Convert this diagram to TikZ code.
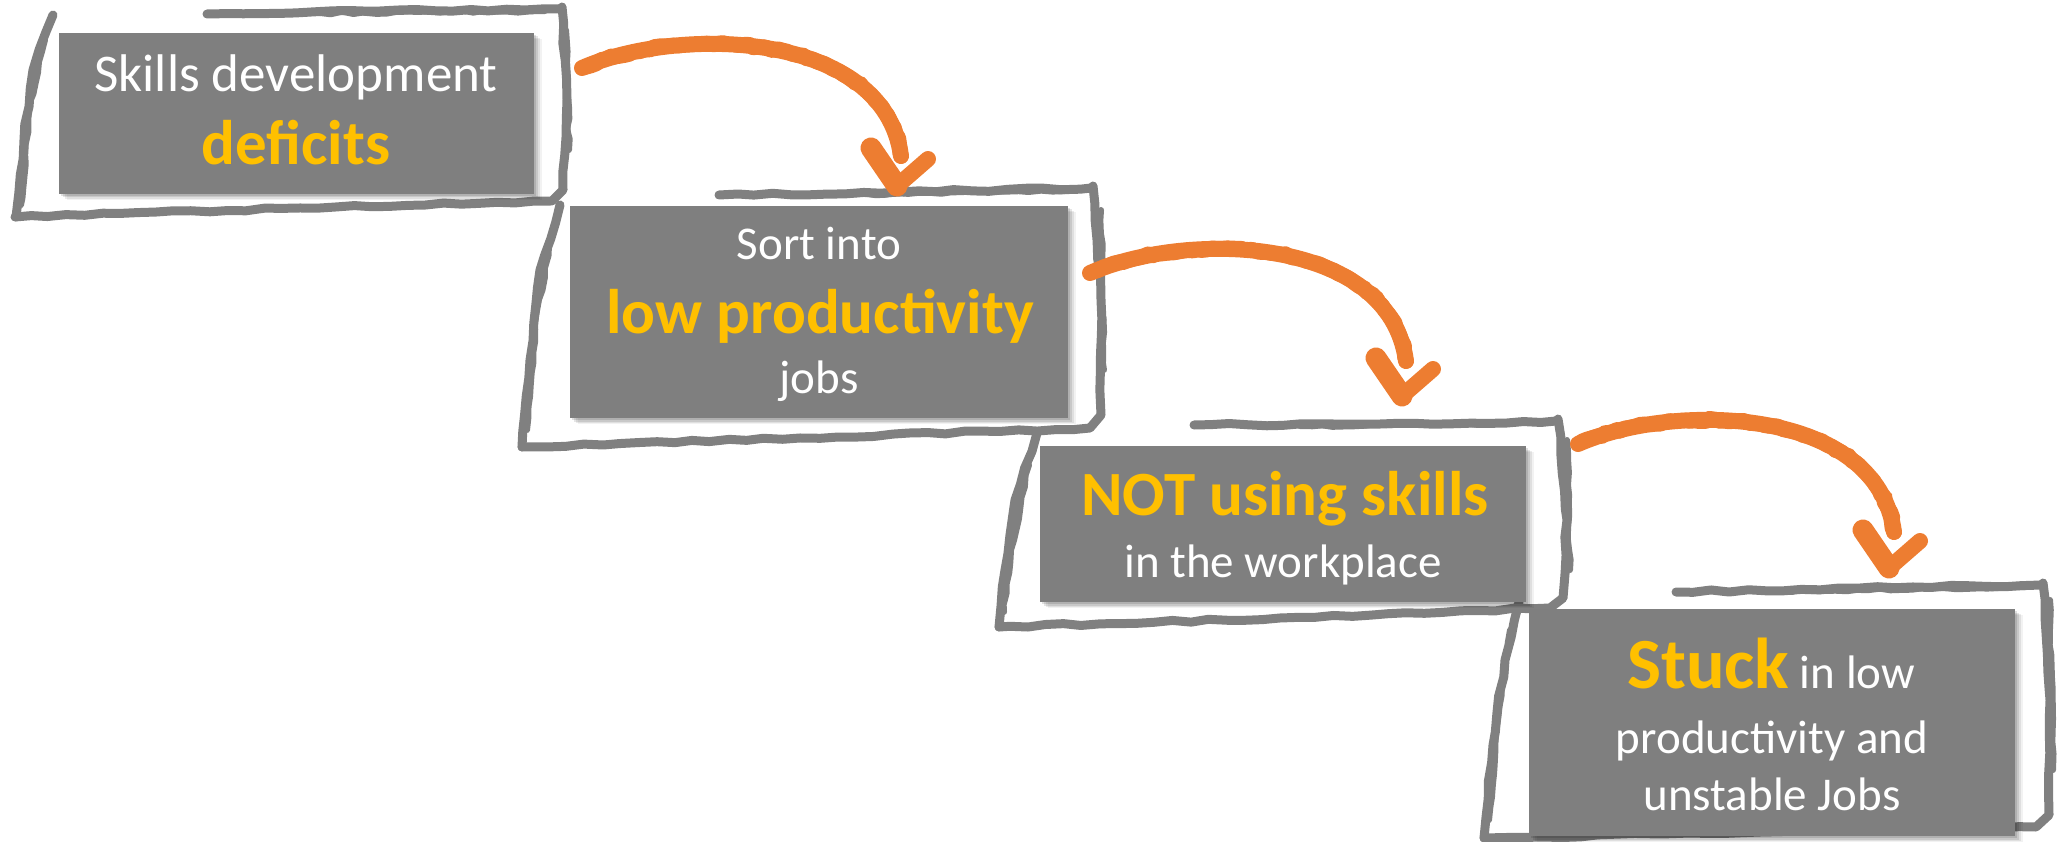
\documentclass[tikz,border=0pt]{standalone}
\usepackage{fontspec}
\setmainfont{Carlito}
\usetikzlibrary{calc,shadows,decorations.pathmorphing}

\definecolor{boxgrey}{HTML}{7F7F7F}
\definecolor{framegrey}{HTML}{808080}
\definecolor{accent}{HTML}{FFC000}
\definecolor{brushorange}{HTML}{ED7D31}

\tikzset{
  card/.style={rectangle, fill=boxgrey, draw=none, inner sep=0pt,
    drop shadow={shadow xshift=2pt, shadow yshift=-2pt, opacity=0.12, fill=black},
    drop shadow={shadow xshift=4pt, shadow yshift=-3.5pt, opacity=0.10, fill=black},
    drop shadow={shadow xshift=6pt, shadow yshift=-5pt, opacity=0.08, fill=black},
    drop shadow={shadow xshift=8pt, shadow yshift=-6pt, opacity=0.05, fill=black}},
  textline/.style={inner sep=0pt, anchor=base, text=white},
  plain/.style={textline, font=\fontsize{47}{56}\selectfont},
  plainbig/.style={textline, font=\fontsize{53}{62}\selectfont},
  strong/.style={textline, font=\fontsize{63}{75}\selectfont\bfseries, text=accent},
  sketch/.style={draw=framegrey, line width=9pt, line cap=round, line join=round,
    decorate, decoration={random steps, segment length=18pt, amplitude=1.3pt}},
  sketchlight/.style={draw=framegrey, line width=6pt, line cap=round, line join=round,
    decorate, decoration={random steps, segment length=11pt, amplitude=1.4pt}},
  shaft/.style={draw=brushorange, line width=16pt, line cap=round, line join=round},
  shaftrough/.style={draw=brushorange, line width=15pt, line cap=round, line join=round,
    decorate, decoration={random steps, segment length=5pt, amplitude=1.5pt}},
  headwide/.style={draw=brushorange, line width=21pt, line cap=round},
  headnarrow/.style={draw=brushorange, line width=16pt, line cap=round},
}

\begin{document}
\begin{tikzpicture}[x=1pt, y=-1pt]
\pgfmathsetseed{11}
\useasboundingbox (0,0) rectangle (2068,842);

% ---- hand-drawn frames behind the cards ----
% frame 1
\draw[sketch] (207,14) -- (380,11) -- (560,9);
\draw[sketch] (562,7) -- (567,100) -- (563,190) -- (552,201) -- (300,208) -- (15,217);
\draw[sketch] (53,15) -- (33,70) -- (24,140) -- (16,217);
\draw[sketchlight] (320,13) -- (545,11);
\draw[sketchlight] (566,30) -- (569,150);
\draw[sketchlight] (45,40) -- (29,110) -- (21,205);
% frame 2
\draw[sketch] (719,195) -- (900,192) -- (1091,188);
\draw[sketch] (1093,186) -- (1101,300) -- (1101,415) -- (1090,428) -- (800,438) -- (522,447);
\draw[sketch] (560,205) -- (540,270) -- (530,360) -- (522,447);
\draw[sketchlight] (820,195) -- (1075,190);
\draw[sketchlight] (1101,210) -- (1104,370);
\draw[sketchlight] (551,235) -- (535,330) -- (527,430);
% frame 3
\draw[sketch] (1194,425) -- (1380,424) -- (1556,421);
\draw[sketch] (1558,419) -- (1567,520) -- (1563,598) -- (1550,608) -- (1280,618) -- (999,627);
\draw[sketch] (1037,433) -- (1015,500) -- (1005,570) -- (999,627);
\draw[sketchlight] (1300,426) -- (1540,423);
\draw[sketchlight] (1567,440) -- (1570,570);
\draw[sketchlight] (1029,465) -- (1011,550) -- (1004,612);
% frame 4
\draw[sketch] (1676,592) -- (1860,588) -- (2041,585);
\draw[sketch] (2043,583) -- (2050,700) -- (2049,815) -- (2036,827) -- (1760,832) -- (1484,838);
\draw[sketch] (1519,602) -- (1505,660) -- (1493,745) -- (1484,838);
\draw[sketchlight] (1780,591) -- (2025,587);
\draw[sketchlight] (2050,600) -- (2053,770);
\draw[sketchlight] (1510,630) -- (1498,720) -- (1489,820);

% ---- cards ----
\node[card, minimum width=475pt, minimum height=161pt] (b1) at (296.5,113.5) {};
\node[card, minimum width=498pt, minimum height=212pt] (b2) at (819,312) {};
\node[card, minimum width=486pt, minimum height=156pt] (b3) at (1283,524) {};
\node[card, minimum width=486pt, minimum height=227pt] (b4) at (1772,722.5) {};

% ---- card texts ----
\node[plainbig] (t1a) at (296,92) {Skills development};
\node[strong]   (t1b) at (296,165) {deficits};

\node[plain]  (t2a) at (819,260) {Sort into};
\node[strong] (t2b) at (820,333) {low productivity};
\node[plain]  (t2c) at (819,393) {jobs};

\node[strong] (t3a) at (1285,515) {NOT using skills};
\node[plain]  (t3b) at (1283,577) {in the workplace};

\node[plain] (t4a) at (1771,688)
  {\textcolor{accent}{\fontsize{72}{80}\selectfont\bfseries Stuck} in low};
\node[plain] (t4b) at (1772,753) {productivity and};
\node[plain] (t4c) at (1772,810) {unstable Jobs};

% ---- brush arrows between steps ----
\coordinate (a1s) at (582,68);
\coordinate (a1e) at ($(a1s)+(319,88)$);
\coordinate (a1t) at ($(a1s)+(315,118)$);
\coordinate (a2s) at (1090,273);
\coordinate (a2e) at ($(a2s)+(316,88)$);
\coordinate (a2t) at ($(a2s)+(312,123)$);
\coordinate (a3s) at (1578,444);
\coordinate (a3e) at ($(a3s)+(316,88)$);
\coordinate (a3t) at ($(a3s)+(311,124)$);

\foreach \s/\e/\t in {a1s/a1e/a1t, a2s/a2e/a2t, a3s/a3e/a3t}{
  \draw[shaft] (\s) .. controls +(98,-43) and +(-17,-125) .. (\e);
  \draw[shaftrough] (\s) .. controls +(98,-43) and +(-17,-125) .. (\e);
  \draw[headwide] ($(\t)+(-26,-38)$) -- (\t);
  \draw[headnarrow] (\t) -- ($(\t)+(31,-27)$);
}
\end{tikzpicture}
\end{document}
